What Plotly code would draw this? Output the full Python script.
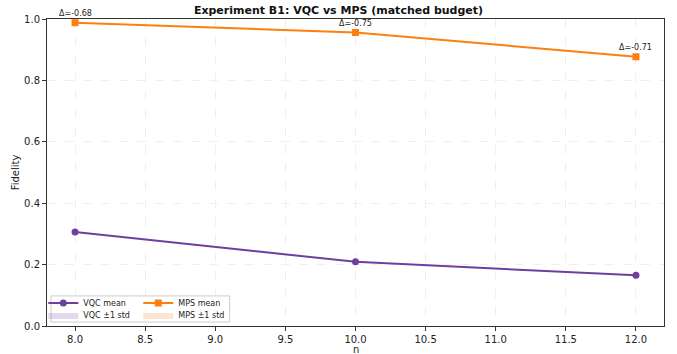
import plotly.graph_objects as go

n_vals = [8, 10, 12]
vqc_mean = [0.306, 0.209, 0.165]
vqc_std = [0.0, 0.0, 0.0]
mps_mean = [0.988, 0.956, 0.877]
mps_std = [0.0, 0.0, 0.0]
delta_labels = ["Δ=-0.68", "Δ=-0.75", "Δ=-0.71"]

VQC_C = "#6f3fa0"
MPS_C = "#ff7f0e"

fig = go.Figure()

fig.add_trace(go.Scatter(x=n_vals, y=vqc_mean, mode="lines+markers", name="VQC mean",
                         line=dict(color=VQC_C, width=2), marker=dict(symbol="circle", size=7, color=VQC_C),
                         legend="legend"))
fig.add_trace(go.Scatter(x=n_vals + n_vals[::-1],
                         y=[m + s for m, s in zip(vqc_mean, vqc_std)] + [m - s for m, s in zip(vqc_mean, vqc_std)][::-1],
                         fill="toself", fillcolor="rgba(111,63,160,0.2)", line=dict(width=0, color="rgba(0,0,0,0)"),
                         mode="lines", name="VQC ±1 std", hoverinfo="skip", legend="legend2"))
fig.add_trace(go.Scatter(x=n_vals, y=mps_mean, mode="lines+markers", name="MPS mean",
                         line=dict(color=MPS_C, width=2), marker=dict(symbol="square", size=7, color=MPS_C),
                         legend="legend"))
fig.add_trace(go.Scatter(x=n_vals + n_vals[::-1],
                         y=[m + s for m, s in zip(mps_mean, mps_std)] + [m - s for m, s in zip(mps_mean, mps_std)][::-1],
                         fill="toself", fillcolor="rgba(255,127,14,0.2)", line=dict(width=0, color="rgba(0,0,0,0)"),
                         mode="lines", name="MPS ±1 std", hoverinfo="skip", legend="legend2"))

for x, y, t in zip(n_vals, mps_mean, delta_labels):
    fig.add_annotation(x=x, y=y, text=t, showarrow=False, yshift=9, font=dict(size=8, color="#222"))

fig.add_annotation(x=0.5, y=-0.075, xref="paper", yref="paper", text="n", showarrow=False,
                   yanchor="middle", borderpad=0, font=dict(size=10, color="#222"))

axis_common = dict(showline=True, linecolor="#333", linewidth=1, mirror=True, ticks="outside",
                   ticklen=4, tickcolor="#333", showgrid=True, gridcolor="#efefef", griddash="dash",
                   gridwidth=1, zeroline=False, tickfont=dict(size=10, color="#222"), automargin=False)

fig.update_xaxes(range=[7.8, 12.2], tickvals=[8, 8.5, 9, 9.5, 10, 10.5, 11, 11.5, 12],
                 ticktext=["8.0", "8.5", "9.0", "9.5", "10.0", "10.5", "11.0", "11.5", "12.0"],
                 **axis_common)
fig.update_yaxes(range=[0, 1.0], tickvals=[0, 0.2, 0.4, 0.6, 0.8, 1.0],
                 ticktext=["0.0", "0.2", "0.4", "0.6", "0.8", "1.0"],
                 title=dict(text="Fidelity", font=dict(size=10, color="#222"), standoff=2), **axis_common)

# legend frame
fig.add_shape(type="rect", xref="paper", yref="paper", x0=0.0065, x1=0.296, y0=0.013, y1=0.098,
              line=dict(color="#cccccc", width=1), fillcolor="rgba(255,255,255,0.85)", layer="above")

leg_common = dict(orientation="h", yanchor="middle", xanchor="left", bgcolor="rgba(0,0,0,0)",
                  borderwidth=0, font=dict(size=8, color="#222"), tracegroupgap=0, itemwidth=30,
                  entrywidth=50, entrywidthmode="pixels")

fig.update_layout(
    width=677, height=354,
    margin=dict(l=47, r=13, t=19, b=28),
    plot_bgcolor="white", paper_bgcolor="white",
    font=dict(family="DejaVu Sans", size=10, color="#222"),
    title=dict(text="<b>Experiment B1: VQC vs MPS (matched budget)</b>", x=0.5, xanchor="center",
               y=0.972, yanchor="middle", font=dict(size=11, color="#111")),
    legend=dict(x=-0.006, y=0.075, **leg_common),
    legend2=dict(x=-0.006, y=0.036, **leg_common),
    showlegend=True,
)

fig.write_html("out.html")
